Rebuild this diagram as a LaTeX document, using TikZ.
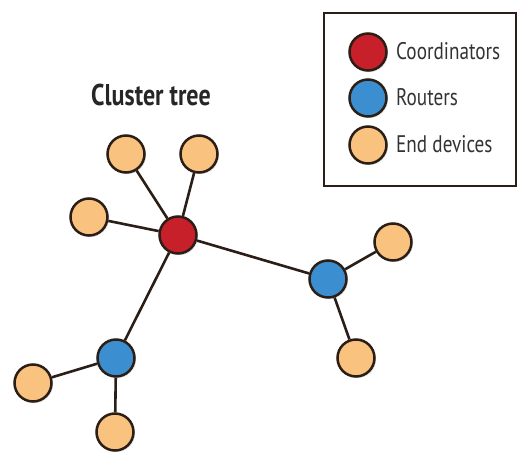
\documentclass[tikz,border=0pt]{standalone}
\usepackage{fontspec}
\setmainfont{PT Sans}
\newfontfamily\condfont[FakeStretch=0.8]{PT Sans}
\usetikzlibrary{shadows}
\definecolor{coordred}{HTML}{C8202A}
\definecolor{routblue}{HTML}{3B8FD0}
\definecolor{endorange}{HTML}{F9C27E}
\definecolor{edge}{HTML}{2A1E16}
\tikzset{
  dev/.style={circle, draw=edge, line width=2.5pt, minimum size=37pt, inner sep=0pt,
    drop shadow={shadow xshift=1.5pt, shadow yshift=-1.5pt, opacity=0.25}},
  coord/.style={dev, fill=coordred},
  router/.style={dev, fill=routblue},
  enddev/.style={dev, fill=endorange},
  link/.style={draw=edge, line width=2.6pt},
  legtext/.style={anchor=west, inner sep=0pt, font=\condfont\fontsize{24}{28}\selectfont, text=black!80},
}
\begin{document}
\begin{tikzpicture}[x=1pt,y=-1pt]
\useasboundingbox (0,0) rectangle (517,452);
% legend
\node[draw=edge, line width=2pt, minimum width=192pt, minimum height=173pt, anchor=north west, inner sep=0pt] (legend) at (323,12) {};
\node[coord] (lc) at (368,52) {};
\node[router] (lr) at (368,98) {};
\node[enddev] (le) at (368,145) {};
\node[legtext] (lct) at (396,51) {Coordinators};
\node[legtext] (lrt) at (396,97) {Routers};
\node[legtext] (let) at (396,144) {End devices};
% title
\node[font=\condfont\bfseries\fontsize{30}{34}\selectfont, text=black!85] (title) at (151,95) {Cluster tree};
% nodes
\node[coord] (c) at (178,235) {};
\node[enddev] (e1) at (126,154) {};
\node[enddev] (e2) at (199,154) {};
\node[enddev] (e3) at (89,217) {};
\node[router] (r1) at (328,279) {};
\node[enddev] (e4) at (393,242) {};
\node[enddev] (e5) at (356,358) {};
\node[router] (r2) at (116,358) {};
\node[enddev] (e6) at (33,383) {};
\node[enddev] (e7) at (115,432) {};
% links
\draw[link] (c) -- (e1);
\draw[link] (c) -- (e2);
\draw[link] (c) -- (e3);
\draw[link] (c) -- (r1);
\draw[link] (c) -- (r2);
\draw[link] (r1) -- (e4);
\draw[link] (r1) -- (e5);
\draw[link] (r2) -- (e6);
\draw[link] (r2) -- (e7);
\end{tikzpicture}
\end{document}
